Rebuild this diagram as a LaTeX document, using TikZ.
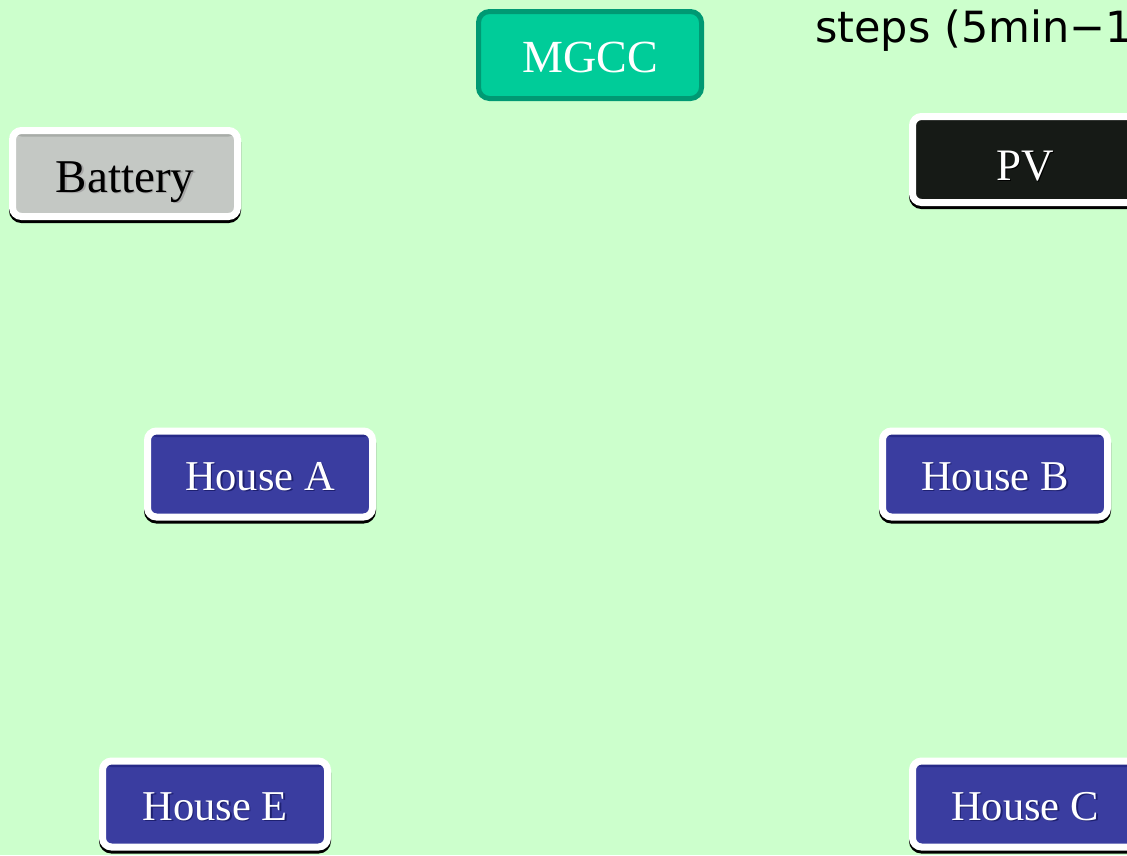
\documentclass[tikz,border=0pt]{standalone}
\usepackage{fontspec}
\setmainfont{Liberation Serif}
\newfontfamily\labelsans{DejaVu Sans}
\usetikzlibrary{calc}

\definecolor{bgmint}{HTML}{CCFFCC}
\definecolor{mgccfill}{HTML}{00CC99}
\definecolor{mgccedge}{HTML}{009973}
\definecolor{housefill}{HTML}{3A3DA0}
\definecolor{housetop}{HTML}{272A88}
\definecolor{houseshade}{HTML}{1E2070}
\definecolor{battfill}{HTML}{C4C8C4}
\definecolor{batttop}{HTML}{A8ACA8}
\definecolor{pvfill}{HTML}{161A16}

% text with a small offset shadow underneath
\newcommand{\shadowlabel}[3]{%
  \rlap{\raisebox{-1.8pt}{\hspace{1.6pt}\textcolor{#1}{#3}}}\textcolor{#2}{#3}}

\tikzset{
  unitbox/.style={
    rounded corners=9pt, line width=7pt, draw=white,
    minimum width=225pt, minimum height=86pt, inner sep=0pt,
    preaction={draw=black, fill=black, line width=7pt,
               transform canvas={yshift=-3pt}},
    text depth=0pt, text height=32pt,
    font=\fontsize{42.5}{46}\selectfont},
  topband/.style={path picture={
      \fill[#1] (path picture bounding box.north west)
        rectangle ([yshift=-6pt]path picture bounding box.north east);}},
  housebox/.style={unitbox, fill=housefill, topband=housetop},
  battbox/.style={unitbox, fill=battfill, topband=batttop,
    text height=37pt, font=\fontsize{47}{50}\selectfont},
  pvbox/.style={unitbox, fill=pvfill, text height=41pt,
    font=\fontsize{45}{50}\selectfont},
  ctrlbox/.style={rounded corners=11pt, line width=5pt, draw=mgccedge,
    fill=mgccfill, minimum width=223pt, minimum height=87pt,
    inner sep=0pt, text=white, text depth=0pt, text height=34pt,
    font=\fontsize{46}{50}\selectfont},
}

\begin{document}
\begin{tikzpicture}[x=1pt, y=-1pt]
  \useasboundingbox (0,0) rectangle (1127,855);
  \fill[bgmint] (0,0) rectangle (1127,855);

  % controller
  \node[ctrlbox] (mgcc) at (590,55) {MGCC};

  % sources
  \node[battbox] (battery) at (125,173.5) {\shadowlabel{black!35}{black}{Battery}};
  \node[pvbox] (pv) at (1025,159.5) {\shadowlabel{black}{white}{PV}};

  % loads
  \node[housebox] (houseA) at (260,474) {\shadowlabel{houseshade}{white}{House A}};
  \node[housebox] (houseB) at (995,474) {\shadowlabel{houseshade}{white}{House B}};
  \node[housebox] (houseE) at (215,804) {\shadowlabel{houseshade}{white}{House E}};
  \node[housebox] (houseC) at (1025,804) {\shadowlabel{houseshade}{white}{House C}};

  % caption running off the right edge
  \node[anchor=base west, inner sep=0pt,
        font=\labelsans\fontsize{43}{48}\selectfont] (caption)
    at (815,42) {steps (5min−1};
\end{tikzpicture}
\end{document}
